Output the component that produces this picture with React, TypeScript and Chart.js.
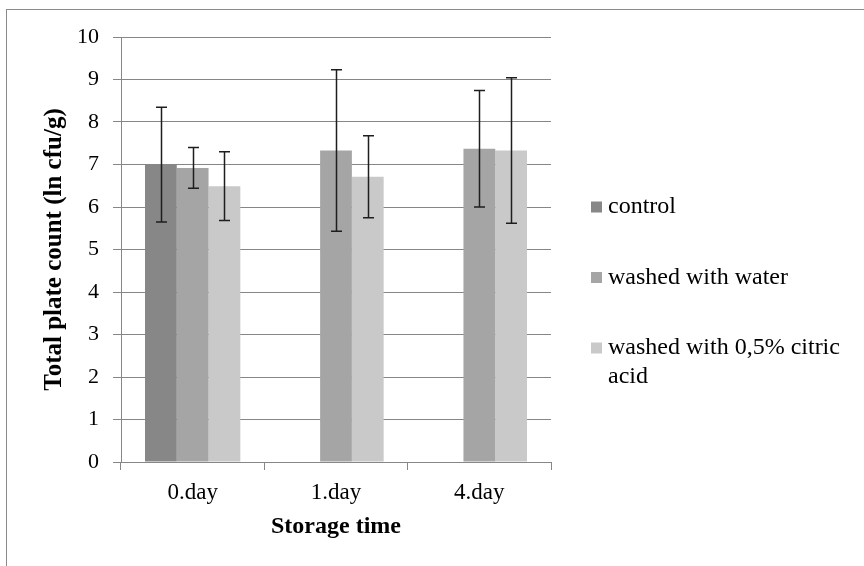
import React, { useEffect, useRef } from 'react';
import { Chart, registerables } from 'chart.js';

Chart.register(...registerables);

const categories = ['0.day', '1.day', '4.day'];
const seriesNames = ['control', 'washed with water', 'washed with 0,5% citric acid'];
const seriesColors = ['#878787', '#a5a5a5', '#c9c9c9'];
const controlValues: (number | null)[] = [7.0, null, null];
const waterValues: (number | null)[] = [6.92, 7.33, 7.37];
const acidValues: (number | null)[] = [6.49, 6.71, 7.33];
const controlErrors: (number | null)[] = [1.35, null, null];
const waterErrors: (number | null)[] = [0.48, 1.9, 1.37];
const acidErrors: (number | null)[] = [0.81, 0.965, 1.71];
const yMin = 0;
const yMax = 10;
const yStep = 1;
const xTitle = 'Storage time';
const yTitle = 'Total plate count (ln cfu/g)';

const FONT = "'Liberation Serif', 'Times New Roman', serif";
const GRID = '#868686';

const errorsBySeries = [controlErrors, waterErrors, acidErrors];

const backgroundPlugin = {
  id: 'bgBorder',
  beforeDraw(chart: any) {
    const { ctx, width, height } = chart;
    ctx.save();
    ctx.fillStyle = '#ffffff';
    ctx.fillRect(0, 0, width, height);
    ctx.strokeStyle = '#8a8a8a';
    ctx.lineWidth = 1;
    ctx.strokeRect(6.5, 9.5, width + 20, height + 20);
    ctx.restore();
  },
};

const errorBarPlugin = {
  id: 'errorBars',
  afterDatasetsDraw(chart: any) {
    const { ctx } = chart;
    const yScale = chart.scales.y;
    ctx.save();
    ctx.strokeStyle = '#1e1e1e';
    ctx.lineWidth = 1.5;
    chart.data.datasets.forEach((ds: any, i: number) => {
      const meta = chart.getDatasetMeta(i);
      const errs = errorsBySeries[i];
      meta.data.forEach((bar: any, j: number) => {
        const v = ds.data[j];
        const e = errs[j];
        if (v == null || e == null) return;
        const x = Math.round(bar.x) + 0.5;
        const yt = yScale.getPixelForValue(v + e);
        const yb = yScale.getPixelForValue(v - e);
        const cap = 5.5;
        ctx.beginPath();
        ctx.moveTo(x, yt);
        ctx.lineTo(x, yb);
        ctx.moveTo(x - cap, yt);
        ctx.lineTo(x + cap, yt);
        ctx.moveTo(x - cap, yb);
        ctx.lineTo(x + cap, yb);
        ctx.stroke();
      });
    });
    ctx.restore();
  },
};

const legendPlugin = {
  id: 'customLegend',
  afterDraw(chart: any) {
    const { ctx } = chart;
    const boxX = 591;
    const textX = 608;
    const firstY = 207;
    const step = 70.5;
    const lineH = 29;
    const maxW = 250;
    ctx.save();
    ctx.font = `24px ${FONT}`;
    ctx.textBaseline = 'middle';
    ctx.textAlign = 'left';
    chart.data.datasets.forEach((ds: any, i: number) => {
      const y = firstY + i * step;
      ctx.fillStyle = ds.backgroundColor;
      ctx.fillRect(boxX, y - 5.5, 11, 11);
      ctx.fillStyle = '#000000';
      const words = String(ds.label).split(' ');
      const lines: string[] = [];
      let cur = '';
      words.forEach((w) => {
        const test = cur ? cur + ' ' + w : w;
        if (ctx.measureText(test).width > maxW && cur) {
          lines.push(cur);
          cur = w;
        } else {
          cur = test;
        }
      });
      if (cur) lines.push(cur);
      lines.forEach((ln, k) => ctx.fillText(ln, textX, y + k * lineH));
    });
    ctx.restore();
  },
};

export default function App() {
  const ref = useRef<HTMLCanvasElement>(null);
  useEffect(() => {
    if (!ref.current) return;
    const values = [controlValues, waterValues, acidValues];
    const chart = new Chart(ref.current, {
      type: 'bar',
      data: {
        labels: categories,
        datasets: values.map((vals, i) => ({
          label: seriesNames[i],
          data: vals,
          backgroundColor: seriesColors[i],
          borderWidth: 0,
          categoryPercentage: 0.665,
          barPercentage: 1,
        })),
      },
      options: {
        animation: false,
        responsive: false,
        devicePixelRatio: 1,
        layout: { padding: { left: 0, top: 37, right: 313, bottom: 0 } },
        plugins: {
          legend: { display: false },
          tooltip: { enabled: false },
        },
        scales: {
          x: {
            grid: {
              display: true,
              drawOnChartArea: false,
              drawTicks: true,
              tickLength: 8,
              color: GRID,
              offset: true,
            },
            border: { display: true, color: GRID, width: 1 },
            ticks: {
              color: '#000000',
              padding: 9,
              font: { family: FONT, size: 23 },
            },
            title: {
              display: true,
              text: xTitle,
              color: '#000000',
              font: { family: FONT, size: 24, weight: 'bold' },
              padding: { top: 0, bottom: 25 },
            },
            afterFit: (s: any) => {
              s.height = 104;
            },
          },
          y: {
            min: yMin,
            max: yMax,
            ticks: {
              stepSize: yStep,
              color: '#000000',
              padding: 14,
              font: { family: FONT, size: 22 },
            },
            grid: {
              color: GRID,
              tickLength: 8,
              drawTicks: true,
            },
            border: { display: true, color: GRID, width: 1 },
            title: {
              display: true,
              text: yTitle,
              color: '#000000',
              font: { family: FONT, size: 25, weight: 'bold' },
              padding: { top: 40, bottom: 0 },
            },
            afterFit: (s: any) => {
              s.width = 121;
            },
          },
        },
      },
      plugins: [backgroundPlugin, errorBarPlugin, legendPlugin],
    } as any);
    return () => chart.destroy();
  }, []);
  return (
    <div style={{ position: 'absolute', left: 0, top: 0, width: 864, height: 566 }}>
      <canvas ref={ref} width={864} height={566} style={{ width: 864, height: 566, display: 'block' }} />
    </div>
  );
}
